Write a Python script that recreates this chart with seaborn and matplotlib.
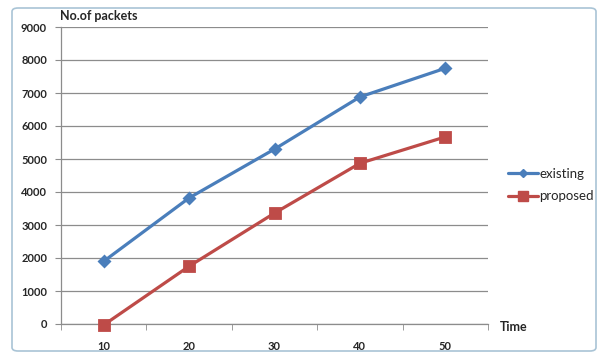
import matplotlib
matplotlib.use("Agg")
import matplotlib.pyplot as plt
from matplotlib.patches import FancyBboxPatch
from matplotlib.lines import Line2D
import pandas as pd
import seaborn as sns

# Data
times = [10, 20, 30, 40, 50]
existing = [1900, 3820, 5300, 6880, 7750]
proposed = [-30, 1750, 3360, 4870, 5670]
series_names = ["existing", "proposed"]
y_ticks = [0, 1000, 2000, 3000, 4000, 5000, 6000, 7000, 8000, 9000]

df = pd.DataFrame({
    "Time": [str(t) for t in times] * 2,
    "packets": existing + proposed,
    "series": [series_names[0]] * len(times) + [series_names[1]] * len(times),
})

sns.set_style("white")
plt.rcParams["font.family"] = ["Lato", "DejaVu Sans"]

colors = {"existing": "#4A7EBB", "proposed": "#BE4B48"}

fig = plt.figure(figsize=(6.08, 3.61), dpi=100)
ax = fig.add_axes([61 / 608, 1 - 324 / 361, 427 / 608, 297 / 361])

sns.pointplot(data=df, x="Time", y="packets", hue="series", palette=colors,
              markers=["D", "s"], linestyles=["-", "-"], ax=ax, legend=False,
              errorbar=None)

for line, ms in zip(ax.lines, [5, 7]):
    line.set_linewidth(2.3)
    line.set_markersize(ms)
    line.set_clip_on(False)
    line.set_zorder(5)
for coll in ax.collections:
    coll.set_clip_on(False)

ax.set_xlim(-0.5, 4.5)
ax.set_ylim(0, 9000)
ax.set_yticks(y_ticks)
ax.set_yticklabels([str(v) for v in y_ticks], fontsize=8, fontweight="bold")
ax.set_xticks(range(len(times)))
ax.set_xticklabels([str(t) for t in times], fontsize=8, fontweight="bold")
ax.set_xlabel("")
ax.set_ylabel("")

# horizontal grid lines
ax.yaxis.grid(True, color="#8c8c8c", linewidth=0.9)
ax.xaxis.grid(False)
ax.set_axisbelow(True)

for side in ["top", "right"]:
    ax.spines[side].set_visible(False)
for side in ["left", "bottom"]:
    ax.spines[side].set_visible(True)
    ax.spines[side].set_color("#8c8c8c")
    ax.spines[side].set_linewidth(0.9)

ax.tick_params(axis="y", which="major", length=4, color="#8c8c8c", left=True, pad=6)
ax.tick_params(axis="x", which="major", length=0, pad=12)
# category boundary ticks on the x axis
ax.set_xticks([i - 0.5 for i in range(len(times) + 1)], minor=True)
ax.tick_params(axis="x", which="minor", length=4, color="#8c8c8c", bottom=True)

fig.text(60 / 608, 1 - 16 / 361, "No.of packets", fontsize=9, fontweight="bold",
         ha="left", va="center")
fig.text(500 / 608, 1 - 327 / 361, "Time", fontsize=9, fontweight="bold",
         ha="left", va="center")

handles = [
    Line2D([0], [0], color=colors["existing"], marker="D", markersize=4.5, linewidth=2.3),
    Line2D([0], [0], color=colors["proposed"], marker="s", markersize=6.5, linewidth=2.3),
]
fig.legend(handles, series_names, loc="center left",
           bbox_to_anchor=(496 / 608, 1 - 185 / 361), frameon=False,
           fontsize=9.5, handlelength=2.3, handletextpad=0.1, labelspacing=0.8)

# chart frame
frame = FancyBboxPatch((12 / 608, 10 / 361), 584 / 608, 343 / 361,
                       boxstyle="round,pad=0,rounding_size=0.01",
                       transform=fig.transFigure, fill=False,
                       edgecolor="#a9c4d6", linewidth=1.2)
fig.patches.append(frame)

fig.savefig("out.png", dpi=100)
